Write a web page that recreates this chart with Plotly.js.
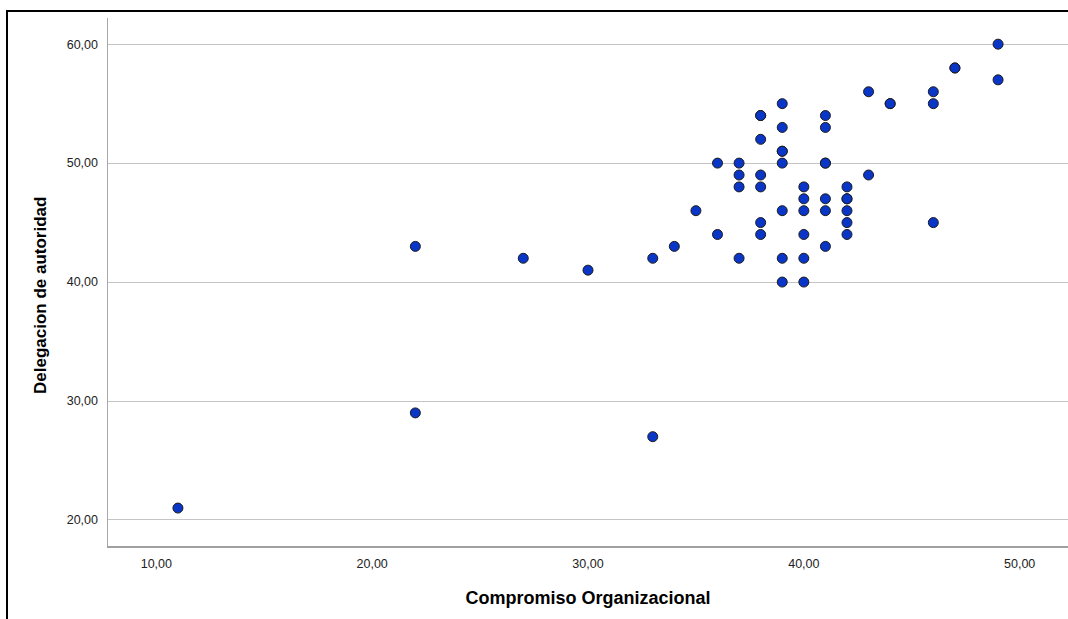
<!DOCTYPE html>
<html>
<head>
<meta charset="utf-8">
<script src="https://cdn.plot.ly/plotly-3.0.1.min.js"></script>
<style>
  html, body { margin: 0; padding: 0; background: #fff; }
  #wrap { position: relative; width: 1068px; height: 619px; overflow: hidden; }
  #chart { position: absolute; left: 0; top: 0; width: 1068px; height: 619px; }
  #frame { position: absolute; left: 6px; top: 10px; width: 1100px; height: 700px;
           border-left: 2px solid #000; border-top: 2px solid #000; pointer-events: none; }
</style>
</head>
<body>
<div id="wrap">
  <div id="chart"></div>
  <div id="frame"></div>
</div>
<script>
// Compromiso Organizacional (x) vs Delegacion de autoridad (y)
const compromiso = [49, 47, 47, 49, 43, 46, 39, 44, 44, 46, 38, 38, 41, 39, 41, 38, 39, 39,
                    36, 37, 39, 41, 41, 37, 38, 43, 37, 38, 40, 42, 40, 41, 42, 42,
                    35, 39, 40, 41, 42, 38, 42, 46, 36, 38, 40, 42, 22, 34, 41,
                    27, 33, 37, 39, 40, 30, 39, 40, 22, 33, 11];
const delegacion = [60, 58, 58, 57, 56, 56, 55, 55, 55, 55, 54, 54, 54, 53, 53, 52, 51, 51,
                    50, 50, 50, 50, 50, 49, 49, 49, 48, 48, 48, 48, 47, 47, 47, 47,
                    46, 46, 46, 46, 46, 45, 45, 45, 44, 44, 44, 44, 43, 43, 43,
                    42, 42, 42, 42, 42, 41, 40, 40, 29, 27, 21];
const xTicks = [10, 20, 30, 40, 50];
const yTicks = [20, 30, 40, 50, 60];
const xTitle = 'Compromiso Organizacional';
const yTitle = 'Delegacion de autoridad';

const trace = {
  x: compromiso,
  y: delegacion,
  type: 'scatter',
  mode: 'markers',
  marker: { color: '#0a36c8', size: 10, line: { color: '#1c1c1c', width: 1 } },
  hoverinfo: 'x+y'
};

const layout = {
  width: 1068, height: 619,
  margin: { l: 108, r: 0, t: 18, b: 73, pad: 0 },
  paper_bgcolor: '#ffffff', plot_bgcolor: '#ffffff',
  separators: ',.',
  showlegend: false,
  font: { family: 'Liberation Sans, Arial, sans-serif', color: '#222' },
  xaxis: {
    range: [7.76, 52.24],
    tickvals: xTicks, tickformat: '.2f',
    showgrid: false, zeroline: false,
    showline: true, linecolor: '#a0a0a0', linewidth: 2,
    ticks: '', ticklabelstandoff: 5,
    tickfont: { size: 12.5, color: '#222' },
    title: { text: xTitle, font: { size: 18, color: '#000', weight: 'bold' }, standoff: 21 }
  },
  yaxis: {
    range: [17.81, 62.2],
    tickvals: yTicks, tickformat: '.2f',
    showgrid: true, gridcolor: '#c4c4c4', gridwidth: 1,
    zeroline: false,
    showline: true, linecolor: '#a8a8a8', linewidth: 1.5,
    ticks: '', ticklabelstandoff: 6,
    tickfont: { size: 12.5, color: '#222' }
  },
  annotations: [{
    text: '<b>' + yTitle + '</b>',
    xref: 'paper', yref: 'paper',
    x: (40 - 108) / 960, y: (546 - 296) / 528,
    xanchor: 'center', yanchor: 'middle',
    textangle: -90, showarrow: false,
    font: { size: 17, color: '#000', family: 'Liberation Sans, Arial, sans-serif' }
  }]
};

Plotly.newPlot('chart', [trace], layout, { displayModeBar: false, staticPlot: true });
</script>
</body>
</html>
